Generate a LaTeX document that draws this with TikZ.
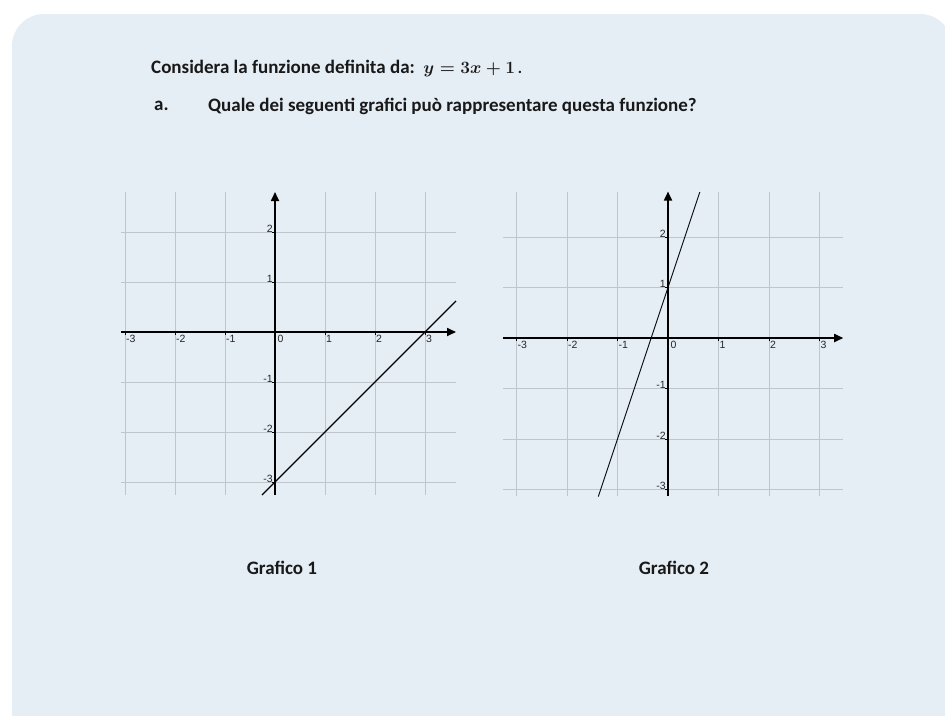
\documentclass[tikz,border=0pt]{standalone}
\usepackage{fontspec}
\setmainfont{Carlito}
\newfontfamily\tickfont{Liberation Sans}
\usetikzlibrary{arrows.meta}
\definecolor{panelblue}{HTML}{E5EDF5}
\definecolor{gridgray}{HTML}{BFC5CC}

\begin{document}
\begin{tikzpicture}[x=1pt, y=-1pt,
                    gridline/.style={draw=gridgray, line width=0.8pt},
                    axisline/.style={line width=1.7pt, -{Triangle[length=9pt, width=8pt]}},
                    tickmark/.style={line width=0.8pt},
                    ticklabel/.style={font=\tickfont\fontsize{10.5}{12}\selectfont, inner sep=1pt, text=black!85},
                    textline/.style={font=\bfseries\fontsize{19}{22}\selectfont, anchor=west, inner sep=0pt, text=black!90},
                    caption/.style={font=\bfseries\fontsize{19}{22}\selectfont, inner sep=0pt, text=black!90}]
                    \useasboundingbox (0,0) rectangle (945,715);
                    \fill[panelblue, rounded corners=32pt] (12,14) rectangle (952,760);

                    % question
                    \node[textline] (intro) at (151,68) {Considera la funzione definita da:\ \ {\fontsize{16}{19}\selectfont\boldmath$y=3x+1$\,.}};
                    \node[textline] (item) at (154,106) {a.};
                    \node[textline] (question) at (208,106) {Quale dei seguenti grafici può rappresentare questa funzione?};

                    % grafico 1
                    \begin{scope}[shift={(275pt,-332pt)}, x=50pt, y=50pt]
                    \foreach \i in {-3,-2,-1,1,2,3}
                        \draw[gridline] (\i,-3.26) -- (\i,2.8);
                    \foreach \j in {-3,-2,-1,1,2}
                        \draw[gridline] (-3.08,\j) -- (3.62,\j);
                    \coordinate (g1xw) at (-3.08,0);
                    \coordinate (g1xe) at (3.62,0);
                    \coordinate (g1ys) at (0,-3.26);
                    \coordinate (g1yn) at (0,2.8);
                    \draw[axisline] (g1xw) -- (g1xe);
                    \draw[axisline] (g1ys) -- (g1yn);
                    \foreach \i in {-3,-2,-1,1,2,3} {
                        \draw[tickmark] (\i,0) -- ++(0,-0.06);
                        \node[ticklabel, anchor=north west] (g1x\i) at (\i,-0.04) {\i};
                    }
                    \node[ticklabel, anchor=north west] (g1x0) at (0.03,-0.04) {0};
                    \foreach \j in {-3,-2,-1,1,2} {
                        \draw[tickmark] (0,\j) -- ++(-0.06,0);
                        \node[ticklabel, anchor=east] (g1y\j) at (-0.02,\j+0.07) {\j};
                    }
                    \coordinate (r1s) at (-0.26,-3.26);
                    \coordinate (r1e) at (3.62,0.62);
                    \draw[line width=1.3pt] (r1s) -- (r1e);
                    \end{scope}

                    % grafico 2
                    \begin{scope}[shift={(668pt,-338pt)}, x=50.5pt, y=50.5pt]
                    \foreach \i in {-3,-2,-1,1,2,3}
                        \draw[gridline] (\i,-3.13) -- (\i,2.9);
                    \foreach \j in {-3,-2,-1,1,2}
                        \draw[gridline] (-3.27,\j) -- (3.47,\j);
                    \coordinate (g2xw) at (-3.27,0);
                    \coordinate (g2xe) at (3.47,0);
                    \coordinate (g2ys) at (0,-3.13);
                    \coordinate (g2yn) at (0,2.9);
                    \draw[axisline] (g2xw) -- (g2xe);
                    \draw[axisline] (g2ys) -- (g2yn);
                    \foreach \i in {-3,-2,-1,1,2,3} {
                        \draw[tickmark] (\i,0) -- ++(0,-0.06);
                        \node[ticklabel, anchor=north west] (g2x\i) at (\i,-0.04) {\i};
                    }
                    \node[ticklabel, anchor=north west] (g2x0) at (0.03,-0.04) {0};
                    \foreach \j in {-3,-2,-1,1,2} {
                        \draw[tickmark] (0,\j) -- ++(-0.06,0);
                        \node[ticklabel, anchor=east] (g2y\j) at (-0.02,\j+0.07) {\j};
                    }
                    \coordinate (r2s) at (-1.38,-3.14);
                    \coordinate (r2e) at (0.63,2.89);
                    \draw[line width=0.9pt] (r2s) -- (r2e);
                    \end{scope}

                    \node[caption] (cap1) at (282,568) {Grafico 1};
                    \node[caption] (cap2) at (674,568) {Grafico 2};
                \end{tikzpicture}
\end{document}
